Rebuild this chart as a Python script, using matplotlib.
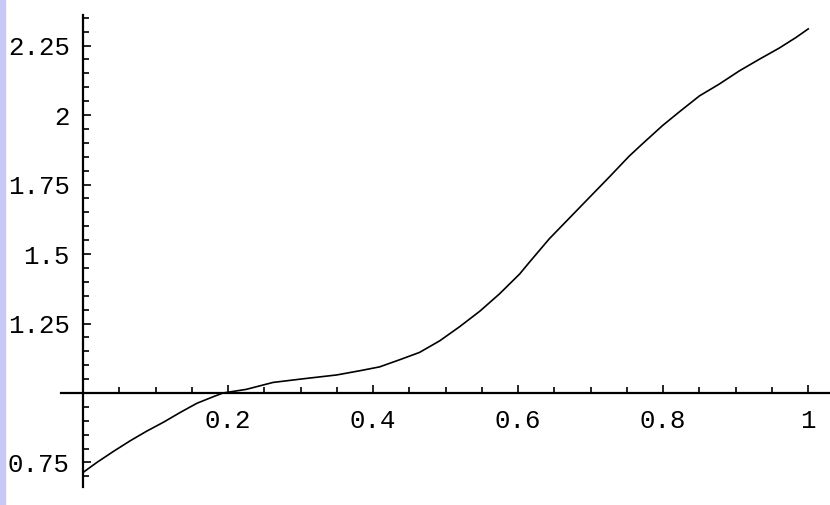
import matplotlib.pyplot as plt
import numpy as np
from matplotlib.patches import Rectangle
from matplotlib.ticker import FixedLocator

# curve values
x_values = [0.0, 0.019, 0.042, 0.065, 0.088, 0.111, 0.134, 0.157, 0.180, 0.193,
            0.225, 0.262, 0.30, 0.35, 0.3815, 0.409, 0.437, 0.464, 0.492, 0.519,
            0.547, 0.574, 0.602, 0.616, 0.643, 0.685, 0.726, 0.753, 0.772, 0.799,
            0.822, 0.85, 0.877, 0.905, 0.932, 0.96, 0.983, 1.0]
y_values = [0.714, 0.750, 0.790, 0.828, 0.863, 0.895, 0.930, 0.963, 0.987, 1.000,
            1.013, 1.038, 1.050, 1.065, 1.080, 1.094, 1.120, 1.146, 1.188, 1.238,
            1.294, 1.356, 1.428, 1.472, 1.555, 1.668, 1.778, 1.852, 1.898, 1.962,
            2.011, 2.069, 2.111, 2.159, 2.200, 2.241, 2.279, 2.310]

x_ticks = [0.2, 0.4, 0.6, 0.8, 1.0]
x_tick_labels = ['0.2', '0.4', '0.6', '0.8', '1']
y_ticks = [0.75, 1.25, 1.5, 1.75, 2.0, 2.25]
y_tick_labels = ['0.75', '1.25', '1.5', '1.75', '2', '2.25']

plt.rcParams['font.family'] = ['Liberation Mono', 'DejaVu Sans Mono']

fig = plt.figure(figsize=(8.3, 5.05), dpi=100)
ax = fig.add_axes([0, 0, 1, 1])
ax.set_xlim(-0.1145, 1.030)
ax.set_ylim(0.597, 2.414)

ax.plot(x_values, y_values, color='black', linewidth=1.2)

# Mathematica style axes crossing at (0, 1)
for side in ['top', 'right']:
    ax.spines[side].set_visible(False)
ax.spines['left'].set_position(('data', 0))
ax.spines['bottom'].set_position(('data', 1))
ax.spines['left'].set_bounds(0.66, 2.36)
ax.spines['bottom'].set_bounds(-0.03, 1.03)
ax.spines['left'].set_linewidth(1.6)
ax.spines['bottom'].set_linewidth(1.6)

ax.set_xticks(x_ticks, x_tick_labels)
ax.set_yticks(y_ticks, y_tick_labels)
ax.xaxis.set_minor_locator(FixedLocator(np.arange(0.05, 1.001, 0.05)))
ax.yaxis.set_minor_locator(FixedLocator(np.arange(0.70, 2.351, 0.05)))
ax.tick_params(which='both', direction='in', width=1.2)
ax.tick_params(which='major', length=6)
ax.tick_params(which='minor', length=4)
ax.tick_params(axis='x', which='major', labelsize=18.5, pad=11.5)
ax.tick_params(axis='y', which='major', labelsize=18.5, pad=9.5)

# lavender strip on the left edge
fig.patches.append(Rectangle((0, 0), 5 / 830, 1, transform=fig.transFigure,
                             color='#c8c8f5', zorder=0))

plt.savefig('out.png', dpi=100)
plt.close()
